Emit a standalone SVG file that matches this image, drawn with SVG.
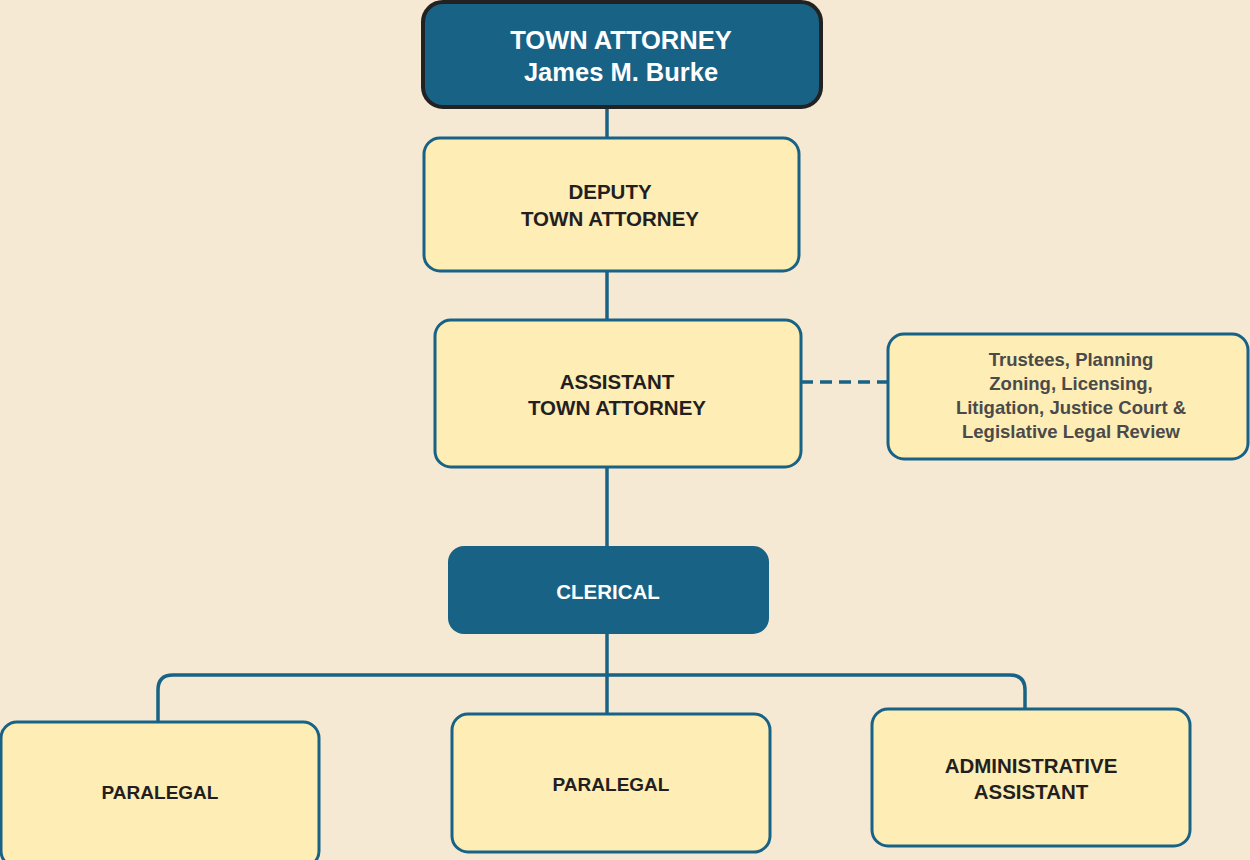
<svg xmlns="http://www.w3.org/2000/svg" width="1250" height="860" viewBox="0 0 1250 860">
<style>
.bg{fill:#F5E9D3}
.dark{fill:#186285}
.light{fill:#FEEDB5;stroke:#186285;stroke-width:3}
.t{font-family:"Liberation Sans",Arial,sans-serif;font-weight:bold;text-anchor:middle}
.w{fill:#FFFFFF}
.k{fill:#231F20}
.g{fill:#4A4A4A}
.ln{fill:none;stroke:#186285;stroke-width:3.5}
</style>
<rect class="bg" x="0" y="0" width="1250" height="860"/>
<g id="connectors">
<line class="ln" x1="607" y1="106" x2="607" y2="714"/>
<path class="ln" d="M158 722 V690 Q158 675 173 675 H1010 Q1025 675 1025 690 V709"/>
<line class="ln" x1="801" y1="382" x2="888" y2="382" stroke-dasharray="12 7"/>
</g>
<g id="town-attorney">
<rect x="423" y="2" width="398" height="105" rx="20" fill="#186285" stroke="#222222" stroke-width="4"/>
<text class="t w" x="621" y="49" font-size="25.5">TOWN ATTORNEY</text>
<text class="t w" x="621" y="81" font-size="25.5">James M. Burke</text>
</g>
<g id="deputy">
<rect class="light" x="424" y="138" width="375" height="133" rx="16"/>
<text class="t k" x="610" y="199" font-size="20.5">DEPUTY</text>
<text class="t k" x="610" y="226" font-size="20.5">TOWN ATTORNEY</text>
</g>
<g id="assistant">
<rect class="light" x="435" y="320" width="366" height="147" rx="16"/>
<text class="t k" x="617" y="389" font-size="20.5">ASSISTANT</text>
<text class="t k" x="617" y="415" font-size="20.5">TOWN ATTORNEY</text>
</g>
<g id="duties">
<rect class="light" x="888" y="334" width="360" height="125" rx="16"/>
<text class="t g" x="1071" y="366" font-size="18.5">Trustees, Planning</text>
<text class="t g" x="1071" y="390" font-size="18.5">Zoning, Licensing,</text>
<text class="t g" x="1071" y="414" font-size="18.5">Litigation, Justice Court &amp;</text>
<text class="t g" x="1071" y="438" font-size="18.5">Legislative Legal Review</text>
</g>
<g id="clerical">
<rect class="dark" x="448" y="546" width="321" height="88" rx="16"/>
<text class="t w" x="608" y="599" font-size="20.5">CLERICAL</text>
</g>
<g id="paralegal-1">
<rect class="light" x="1" y="722" width="318" height="145" rx="16"/>
<text class="t k" x="160" y="799" font-size="19">PARALEGAL</text>
</g>
<g id="paralegal-2">
<rect class="light" x="452" y="714" width="318" height="138" rx="16"/>
<text class="t k" x="611" y="791" font-size="19">PARALEGAL</text>
</g>
<g id="admin-assistant">
<rect class="light" x="872" y="709" width="318" height="137" rx="16"/>
<text class="t k" x="1031" y="773" font-size="20.5">ADMINISTRATIVE</text>
<text class="t k" x="1031" y="799" font-size="20.5">ASSISTANT</text>
</g>
</svg>
